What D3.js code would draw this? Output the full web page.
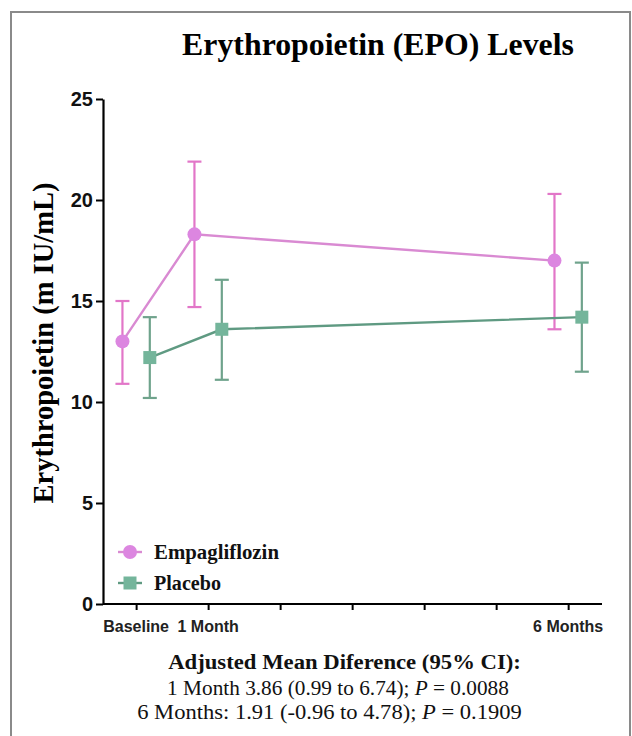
<!DOCTYPE html>
<html>
<head>
<meta charset="utf-8">
<script src="https://cdn.jsdelivr.net/npm/d3@7/dist/d3.min.js"></script>
<style>
  html, body { margin: 0; padding: 0; background: #fff; }
  svg { display: block; }
</style>
</head>
<body>
<svg id="chart" width="632" height="736"></svg>
<script>
// Visit time points (months) and their axis labels
const months = [0, 1, 6];
const monthLabels = ["Baseline", "1 Month", "6 Months"];
const tickMonths = [0, 1, 2, 3, 4, 5, 6];

// Mean EPO (mIU/mL) with 95% CI bounds
const empaMean  = [13.0, 18.3, 17.0];
const empaLow   = [10.9, 14.7, 13.6];
const empaHigh  = [15.0, 21.9, 20.3];
const placMean  = [12.2, 13.6, 14.2];
const placLow   = [10.2, 11.1, 11.5];
const placHigh  = [14.2, 16.05, 16.9];

const yTicks = [0, 5, 10, 15, 20, 25];

(function draw() {
  const svg = d3.select("#chart");
  const serif = "'Liberation Serif', 'Times New Roman', serif";
  const sans = "'Liberation Sans', Arial, sans-serif";

  // Stretch a centred text horizontally so it spans the given width
  function fitWidth(sel, cx, cy, width) {
    const w = sel.node().getBBox().width;
    const sx = width / w;
    sel.attr("x", 0).attr("y", 0)
      .attr("transform", `translate(${cx},${cy}) scale(${sx},1)`);
  }

  // Outer frame
  svg.append("path")
    .attr("d", "M11,736 V12 H630 V736")
    .attr("fill", "none")
    .attr("stroke", "#8a8a8a")
    .attr("stroke-width", 2);

  const plotL = 103, plotR = 602, plotT = 99, plotB = 604;

  const x = d3.scaleLinear().domain([-0.46, 6.47]).range([plotL, plotR]);
  const y = d3.scaleLinear().domain([0, 25]).range([plotB, plotT]);

  // Title
  const title = svg.append("text")
    .attr("text-anchor", "middle")
    .attr("font-family", serif).attr("font-weight", "bold")
    .attr("font-size", 31)
    .text("Erythropoietin (EPO) Levels");
  fitWidth(title, 378, 55, 392);

  // Y axis
  const yAxis = svg.append("g")
    .attr("transform", `translate(${plotL},0)`)
    .call(d3.axisLeft(y).tickValues(yTicks).tickSize(7).tickSizeOuter(0).tickPadding(3));
  yAxis.select(".domain").attr("stroke", "#000").attr("stroke-width", 2.2);
  yAxis.selectAll(".tick line").attr("stroke", "#000").attr("stroke-width", 2);
  yAxis.selectAll(".tick text")
    .attr("font-family", sans).attr("font-weight", "bold")
    .attr("font-size", 20).attr("fill", "#111");

  // X axis
  const xAxis = svg.append("g")
    .attr("transform", `translate(0,${plotB})`)
    .call(d3.axisBottom(x).tickValues(tickMonths).tickSize(6).tickSizeOuter(0).tickFormat(""));
  xAxis.select(".domain").attr("stroke", "#000").attr("stroke-width", 2.2)
    .attr("d", `M${plotL},0H${plotR}`);
  xAxis.selectAll(".tick line").attr("stroke", "#000").attr("stroke-width", 2);

  // X labels for the visits
  svg.append("g").selectAll("text")
    .data(months)
    .join("text")
    .attr("x", d => x(d))
    .attr("y", plotB + 28)
    .attr("text-anchor", "middle")
    .attr("font-family", sans).attr("font-weight", "bold")
    .attr("font-size", 16).attr("fill", "#222")
    .text((d, i) => monthLabels[i]);

  // Y axis title
  const yTitle = svg.append("text")
    .attr("text-anchor", "middle")
    .attr("font-family", serif).attr("font-weight", "bold")
    .attr("font-size", 29)
    .text("Erythropoietin (m IU/mL)");
  {
    const w = yTitle.node().getBBox().width;
    yTitle.attr("transform", `translate(53,343) rotate(-90) scale(${321 / w},1)`);
  }

  // Series
  const dodge = 0.19;
  const series = [
    { name: "Empagliflozin", mean: empaMean, low: empaLow, high: empaHigh,
      shift: -dodge, line: "#d98ad2", bar: "#e276c8", fill: "#dc86e0", shape: "circle", w: 125 },
    { name: "Placebo", mean: placMean, low: placLow, high: placHigh,
      shift: dodge, line: "#5f9a82", bar: "#6fa38c", fill: "#74b59b", shape: "square", w: 67 }
  ];

  series.forEach(s => {
    const g = svg.append("g");
    const pts = months.map((m, i) => ({ m: m + s.shift, v: s.mean[i], lo: s.low[i], hi: s.high[i] }));

    g.append("path")
      .datum(pts)
      .attr("fill", "none")
      .attr("stroke", s.line)
      .attr("stroke-width", 2.4)
      .attr("d", d3.line().x(d => x(d.m)).y(d => y(d.v)));

    const eb = g.selectAll("g.eb").data(pts).join("g").attr("class", "eb");
    eb.append("line")
      .attr("x1", d => x(d.m)).attr("x2", d => x(d.m))
      .attr("y1", d => y(d.lo)).attr("y2", d => y(d.hi))
      .attr("stroke", s.bar).attr("stroke-width", 2.2);
    [d => d.lo, d => d.hi].forEach(f => {
      eb.append("line")
        .attr("x1", d => x(d.m) - 7).attr("x2", d => x(d.m) + 7)
        .attr("y1", d => y(f(d))).attr("y2", d => y(f(d)))
        .attr("stroke", s.bar).attr("stroke-width", 2.2);
    });

    if (s.shape === "circle") {
      g.selectAll("circle").data(pts).join("circle")
        .attr("cx", d => x(d.m)).attr("cy", d => y(d.v)).attr("r", 7)
        .attr("fill", s.fill);
    } else {
      g.selectAll("rect.pt").data(pts).join("rect").attr("class", "pt")
        .attr("x", d => x(d.m) - 6.5).attr("y", d => y(d.v) - 6.5)
        .attr("width", 13).attr("height", 13)
        .attr("fill", s.fill);
    }
  });

  // Legend
  const legend = svg.append("g");
  series.forEach((s, i) => {
    const ly = 552 + i * 31;
    legend.append("line")
      .attr("x1", 118).attr("x2", 142).attr("y1", ly).attr("y2", ly)
      .attr("stroke", s.line).attr("stroke-width", 2.4);
    if (s.shape === "circle") {
      legend.append("circle").attr("cx", 130).attr("cy", ly).attr("r", 7).attr("fill", s.fill);
    } else {
      legend.append("rect").attr("x", 123.5).attr("y", ly - 6.5)
        .attr("width", 13).attr("height", 13).attr("fill", s.fill);
    }
    const t = legend.append("text")
      .attr("text-anchor", "middle")
      .attr("font-family", serif).attr("font-weight", "bold")
      .attr("font-size", 20).attr("fill", "#111")
      .text(s.name);
    fitWidth(t, 154 + s.w / 2, ly + 6.5, s.w);
  });

  // Adjusted mean difference summary
  const foot = svg.append("g").attr("font-family", serif).attr("text-anchor", "middle").attr("fill", "#111");
  const l1 = foot.append("text")
    .attr("font-weight", "bold").attr("font-size", 20)
    .text("Adjusted Mean Diference (95% CI):");
  fitWidth(l1, 344.5, 669, 353);

  const l2 = foot.append("text").attr("font-size", 20);
  l2.append("tspan").text("1 Month 3.86 (0.99 to 6.74); ");
  l2.append("tspan").attr("font-style", "italic").text("P");
  l2.append("tspan").text(" = 0.0088");
  fitWidth(l2, 338, 695, 342);

  const l3 = foot.append("text").attr("font-size", 20);
  l3.append("tspan").text("6 Months: 1.91 (-0.96 to 4.78); ");
  l3.append("tspan").attr("font-style", "italic").text("P");
  l3.append("tspan").text(" = 0.1909");
  fitWidth(l3, 329.5, 719, 385);
})();
</script>
</body>
</html>
